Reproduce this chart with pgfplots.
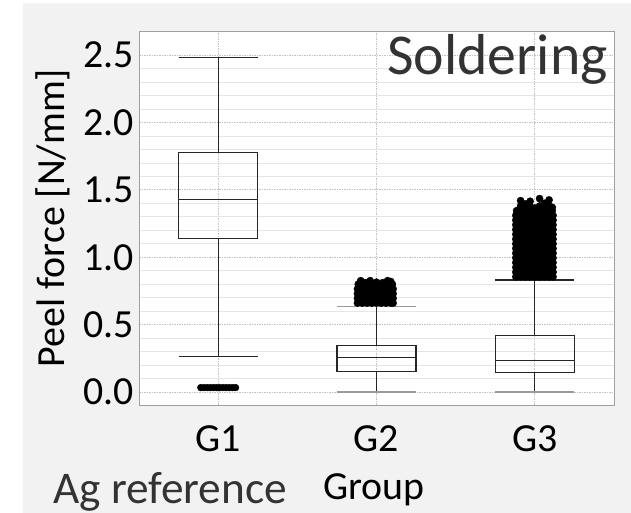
\documentclass[border=0pt]{standalone}
\usepackage{fontspec}
\setmainfont{Carlito}
\usepackage{pgfplots}
\pgfplotsset{compat=1.18}
\usepgfplotslibrary{statistics}
\definecolor{panel}{HTML}{F2F2F2}
\definecolor{frame}{HTML}{A0A0A0}
\definecolor{capgrey}{HTML}{9A9A9A}
\definecolor{txt}{HTML}{333333}

\begin{document}
\begin{tikzpicture}
\useasboundingbox (0,0) rectangle (631bp,513bp);
\fill[panel] (23bp,0bp) rectangle (631bp,510bp);
\begin{axis}[
  at={(139bp,108bp)}, anchor=south west,
  width=475bp, height=374bp, scale only axis,
  xmin=0.5, xmax=3.5, ymin=-0.096, ymax=2.678,
  xtick={1,2,3}, xticklabels={G1,G2,G3},
  ytick={0,0.5,1,1.5,2,2.5}, yticklabels={0.0,0.5,1.0,1.5,2.0,2.5},
  minor y tick num=4,
  grid=both,
  major grid style={color=black!24, dash pattern=on 1.5bp off 1bp, line width=0.7bp},
  minor grid style={color=black!10, line width=0.7bp},
  tick style={draw=none},
  axis line style={frame, line width=0.8bp},
  axis background/.style={fill=white},
  xticklabel style={font=\fontsize{40}{42}\selectfont, inner sep=0pt, yshift=-20bp},
  yticklabel style={font=\fontsize{40}{42}\selectfont, inner sep=0pt, xshift=-5bp},
  ylabel={Peel force [N/mm]},
  ylabel style={font=\fontsize{40}{42}\selectfont, at={(axis description cs:-0.1558,0.5)}, anchor=base, inner sep=0pt},
  boxplot/draw direction=y,
  clip=false,
]
% boxes
\addplot[boxplot prepared={draw position=1, lower whisker=0.262, lower quartile=1.137,
  median=1.430, upper quartile=1.778, upper whisker=2.481, box extend=0.5, whisker extend=0},
  draw=black!85, line width=1.3bp] coordinates {};
\addplot[boxplot prepared={draw position=2, lower whisker=0.0, lower quartile=0.155,
  median=0.254, upper quartile=0.345, upper whisker=0.634, box extend=0.5, whisker extend=0},
  draw=black!85, line width=1.3bp] coordinates {};
\addplot[boxplot prepared={draw position=3, lower whisker=0.0, lower quartile=0.143,
  median=0.234, upper quartile=0.422, upper whisker=0.831, box extend=0.5, whisker extend=0},
  draw=black!85, line width=1.3bp] coordinates {};
% whisker caps
\addplot[black!85, line width=1.3bp] coordinates {(0.75,2.481) (1.25,2.481)};
\addplot[black!85, line width=1.3bp] coordinates {(0.75,0.262) (1.25,0.262)};
\addplot[capgrey, line width=1.5bp] coordinates {(1.75,0.634) (2.25,0.634)};
\addplot[capgrey, line width=1.5bp] coordinates {(1.75,0.0) (2.25,0.0)};
\addplot[black!85, line width=1.3bp] coordinates {(2.75,0.831) (3.25,0.831)};
\addplot[capgrey, line width=1.5bp] coordinates {(2.75,0.0) (3.25,0.0)};
% outliers G1
\addplot[only marks, mark=*, mark size=3.4bp, black] coordinates {
(0.89,0.033) (0.91,0.033) (0.93,0.033) (0.95,0.033) (0.97,0.033) (0.99,0.033)
(1.01,0.033) (1.03,0.033) (1.05,0.033) (1.07,0.033) (1.09,0.033) (1.11,0.033)};
% outliers G2
\addplot[only marks, mark=*, mark size=3.6bp, black] coordinates {
(1.88,0.66) (1.91,0.66) (1.94,0.66) (1.97,0.66) (2.00,0.66) (2.03,0.66) (2.06,0.66) (2.09,0.66) (2.105,0.66)
(1.88,0.695) (1.91,0.695) (1.94,0.695) (1.97,0.695) (2.00,0.695) (2.03,0.695) (2.06,0.695) (2.09,0.695) (2.105,0.695)
(1.88,0.73) (1.91,0.73) (1.94,0.73) (1.97,0.73) (2.00,0.73) (2.03,0.73) (2.06,0.73) (2.09,0.73) (2.105,0.73)
(1.88,0.765) (1.91,0.765) (1.94,0.765) (1.97,0.765) (2.00,0.765) (2.03,0.765) (2.06,0.765) (2.09,0.765) (2.105,0.765)
(1.885,0.80) (1.91,0.80) (1.94,0.80) (1.97,0.80) (2.00,0.80) (2.03,0.80) (2.06,0.80) (2.09,0.80) (2.10,0.80)
(1.90,0.826) (1.93,0.812) (1.96,0.826) (2.00,0.815) (2.04,0.812) (2.07,0.826) (2.09,0.82)};
% outliers G3
\addplot[only marks, mark=*, mark size=3.6bp, black] coordinates {
(2.88,0.855) (2.91,0.855) (2.94,0.855) (2.97,0.855) (3.00,0.855) (3.03,0.855) (3.06,0.855) (3.09,0.855) (3.115,0.855)
(2.88,0.89) (2.91,0.89) (2.94,0.89) (2.97,0.89) (3.00,0.89) (3.03,0.89) (3.06,0.89) (3.09,0.89) (3.115,0.89)
(2.88,0.925) (2.91,0.925) (2.94,0.925) (2.97,0.925) (3.00,0.925) (3.03,0.925) (3.06,0.925) (3.09,0.925) (3.115,0.925)
(2.88,0.96) (2.91,0.96) (2.94,0.96) (2.97,0.96) (3.00,0.96) (3.03,0.96) (3.06,0.96) (3.09,0.96) (3.115,0.96)
(2.88,0.995) (2.91,0.995) (2.94,0.995) (2.97,0.995) (3.00,0.995) (3.03,0.995) (3.06,0.995) (3.09,0.995) (3.115,0.995)
(2.88,1.03) (2.91,1.03) (2.94,1.03) (2.97,1.03) (3.00,1.03) (3.03,1.03) (3.06,1.03) (3.09,1.03) (3.115,1.03)
(2.88,1.065) (2.91,1.065) (2.94,1.065) (2.97,1.065) (3.00,1.065) (3.03,1.065) (3.06,1.065) (3.09,1.065) (3.115,1.065)
(2.88,1.10) (2.91,1.10) (2.94,1.10) (2.97,1.10) (3.00,1.10) (3.03,1.10) (3.06,1.10) (3.09,1.10) (3.115,1.10)
(2.88,1.135) (2.91,1.135) (2.94,1.135) (2.97,1.135) (3.00,1.135) (3.03,1.135) (3.06,1.135) (3.09,1.135) (3.115,1.135)
(2.88,1.17) (2.91,1.17) (2.94,1.17) (2.97,1.17) (3.00,1.17) (3.03,1.17) (3.06,1.17) (3.09,1.17) (3.115,1.17)
(2.88,1.205) (2.91,1.205) (2.94,1.205) (2.97,1.205) (3.00,1.205) (3.03,1.205) (3.06,1.205) (3.09,1.205) (3.115,1.205)
(2.88,1.24) (2.91,1.24) (2.94,1.24) (2.97,1.24) (3.00,1.24) (3.03,1.24) (3.06,1.24) (3.09,1.24) (3.115,1.24)
(2.88,1.275) (2.91,1.275) (2.94,1.275) (2.97,1.275) (3.00,1.275) (3.03,1.275) (3.06,1.275) (3.09,1.275) (3.115,1.275)
(2.88,1.31) (2.91,1.31) (2.94,1.31) (2.97,1.31) (3.00,1.31) (3.03,1.31) (3.06,1.31) (3.09,1.31) (3.115,1.31)
(2.885,1.345) (2.91,1.345) (2.94,1.345) (2.97,1.345) (3.00,1.345) (3.03,1.345) (3.06,1.345) (3.09,1.345) (3.11,1.345)
(2.91,1.38) (2.94,1.37) (2.97,1.38) (3.00,1.365) (3.03,1.38) (3.06,1.38) (3.09,1.38) (3.11,1.37)
(2.91,1.42) (2.94,1.395) (2.97,1.415) (3.03,1.435) (3.06,1.40) (3.09,1.425)};
\end{axis}
\node[font=\fontsize{58}{60}\selectfont, text=txt, anchor=base east, inner sep=0pt] at (608bp,438bp) {Soldering};
\node[font=\fontsize{45.5}{47}\selectfont, text=txt, anchor=base west, inner sep=0pt] at (53bp,10bp) {Ag reference};
\node[font=\fontsize{40}{42}\selectfont, text=black, anchor=base west, inner sep=0pt] at (323bp,14bp) {Group};
\end{tikzpicture}
\end{document}
